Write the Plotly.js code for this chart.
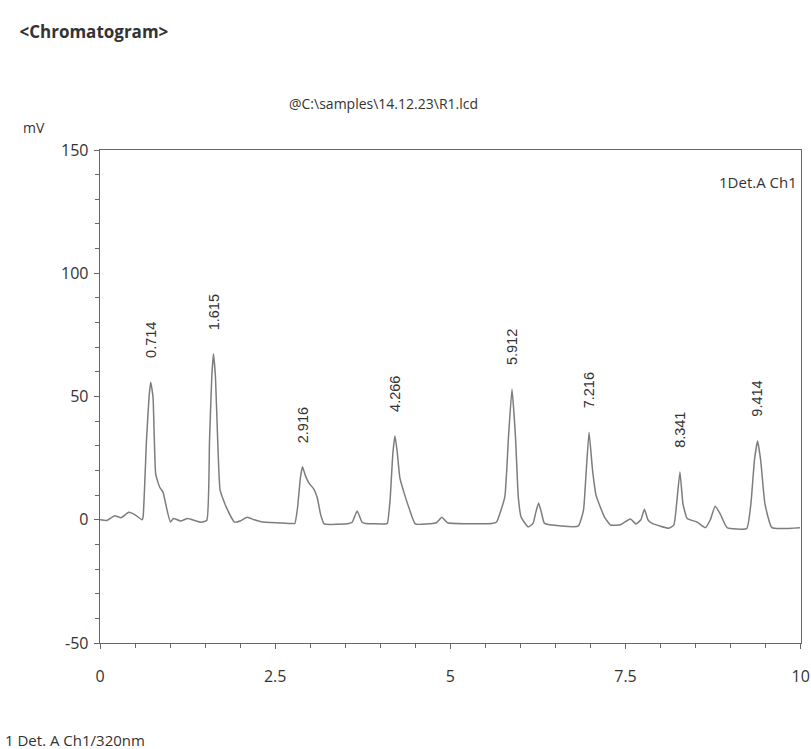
<!DOCTYPE html>
<html>
<head>
<meta charset="utf-8">
<script src="https://cdn.plot.ly/plotly-3.0.1.min.js"></script>
<style>html,body{margin:0;padding:0;background:#fff;}#chart{width:811px;height:749px;}</style>
</head>
<body>
<div id="chart"></div>
<script>
// Retention time (min) and signal (mV)
const timeMin = [0.00,0.10,0.21,0.30,0.41,0.50,0.60,0.615,0.663,0.700,0.724,0.757,0.795,0.852,0.899,0.947,1.004,1.05,1.15,1.25,1.35,1.45,1.525,1.563,1.595,1.619,1.648,1.680,1.714,1.800,1.918,2.00,2.10,2.20,2.30,2.72,2.78,2.82,2.86,2.89,2.93,2.98,3.05,3.10,3.15,3.20,3.55,3.60,3.67,3.74,3.79,4.05,4.10,4.14,4.18,4.21,4.24,4.28,4.35,4.42,4.50,4.80,4.88,4.96,5.59,5.66,5.777,5.83,5.88,5.93,5.97,6.01,6.11,6.18,6.22,6.26,6.30,6.345,6.825,6.90,6.94,6.98,7.03,7.08,7.20,7.29,7.43,7.57,7.65,7.72,7.77,7.82,7.88,8.12,8.19,8.23,8.277,8.32,8.38,8.52,8.64,8.71,8.78,8.85,8.95,9.23,9.29,9.34,9.385,9.43,9.49,9.59,9.99];
const signalMV = [0,-0.3,1.6,0.8,3,2,0,1.1,32,49.7,55.8,49.7,18.5,13.2,11.2,5.2,-0.9,0.5,-0.5,0.5,-0.3,-1,-0.2,32,57.8,67.3,57.8,32,12,5.2,-0.9,-0.5,1,0,-0.8,-1.5,-1.5,5,17,21.5,18,15,12.5,9,2,-1.7,-1.5,-1,3.6,-1,-1.5,-1.7,-1.5,8,27,34,28,17,10,4,-1.7,-1.2,1,-1.2,-1.5,-0.9,9.2,33.5,53,33.5,9.2,1.1,-2.9,-1.5,3,6.8,3,-1.5,-2.6,3.8,20,35.5,20,9.9,1.1,-2.2,-2,0.3,-1.7,0,4.3,0,-1.5,-3.4,-2.2,6.5,19.4,6.5,0.5,-0.9,-3.2,0,5.5,2.5,-3.2,-3.6,6.5,24,31.9,24,6.5,-3.2,-3.2];
// Peak apex positions (as drawn) and their printed retention-time labels
const peakTimes = [0.724,1.619,2.89,4.21,5.88,6.98,8.277,9.385];
const peakHeights = [55.8,67.3,21.5,34,53,35.5,19.4,31.9];
const peakLabels = ["0.714","1.615","2.916","4.266","5.912","7.216","8.341","9.414"];
const xTicks = [0,2.5,5,7.5,10];
const xTickText = ["0","2.5","5","7.5","10"];
const yTicks = [-50,0,50,100,150];
const yTickText = ["-50","0","50","100","150"];

const axisFont = {family:"Open Sans, sans-serif", size:16, color:"#333"};

const trace = {
  x: timeMin, y: signalMV, type:"scatter", mode:"lines",
  line:{color:"#7d7d7d", width:1.5, shape:"spline", smoothing:0.4}, hoverinfo:"skip", showlegend:false
};

const annotations = peakLabels.map((t,i)=>({
  x: peakTimes[i], y: peakHeights[i], xref:"x", yref:"y",
  text: t, showarrow:false, textangle:-90,
  yanchor:"bottom", xanchor:"center", yshift:22,
  font:{family:"Liberation Sans, Arial, sans-serif", size:14.5, color:"#333"}
}));
annotations.push(
  {xref:"paper", yref:"paper", x:0.997, y:0.935, xanchor:"right", yanchor:"middle", showarrow:false,
   text:"1Det.A Ch1", font:{family:"Open Sans, sans-serif", size:15, color:"#333"}},
  {xref:"paper", yref:"paper", x:-0.112, y:1.045, xanchor:"left", yanchor:"middle", showarrow:false,
   text:"mV", font:{family:"Open Sans, sans-serif", size:14, color:"#333"}},
  {xref:"paper", yref:"paper", x:-0.138, y:-0.196, xanchor:"left", yanchor:"middle", showarrow:false,
   text:"1 Det. A Ch1/320nm", font:{family:"Open Sans, sans-serif", size:15, color:"#333"}},
  {xref:"paper", yref:"paper", x:0.404, y:1.095, xanchor:"center", yanchor:"middle", showarrow:false,
   text:"@C:\\samples\\14.12.23\\R1.lcd", font:{family:"Open Sans, sans-serif", size:14, color:"#333"}}
);

const layout = {
  width:811, height:749,
  margin:{l:100, r:10, t:150, b:106},
  paper_bgcolor:"#ffffff", plot_bgcolor:"#ffffff",
  title:{text:"<b>&lt;Chromatogram&gt;</b>", x:0.024, xanchor:"left", y:0.957, yanchor:"middle",
         font:{family:"Open Sans, sans-serif", size:17, color:"#333"}},
  xaxis:{range:[0,10.005], tickvals:xTicks, ticktext:xTickText, showgrid:false, zeroline:false,
         showline:true, linecolor:"#666", linewidth:1.3, mirror:true,
         ticks:"outside", ticklen:5, tickcolor:"#666", ticklabelstandoff:13, ticklabeloverflow:"allow",
         minor:{dtick:0.5, ticks:"outside", ticklen:4, tickcolor:"#666"},
         tickfont:axisFont, fixedrange:true},
  yaxis:{range:[-50,150], tickvals:yTicks, ticktext:yTickText, showgrid:false, zeroline:false,
         showline:true, linecolor:"#666", linewidth:1.3, mirror:true,
         ticks:"outside", ticklen:5, tickcolor:"#666", ticklabelstandoff:2,
         minor:{dtick:10, ticks:"outside", ticklen:4, tickcolor:"#666"},
         tickfont:axisFont, fixedrange:true},
  annotations: annotations
};

Plotly.newPlot("chart", [trace], layout, {displayModeBar:false, staticPlot:true});
</script>
</body>
</html>
